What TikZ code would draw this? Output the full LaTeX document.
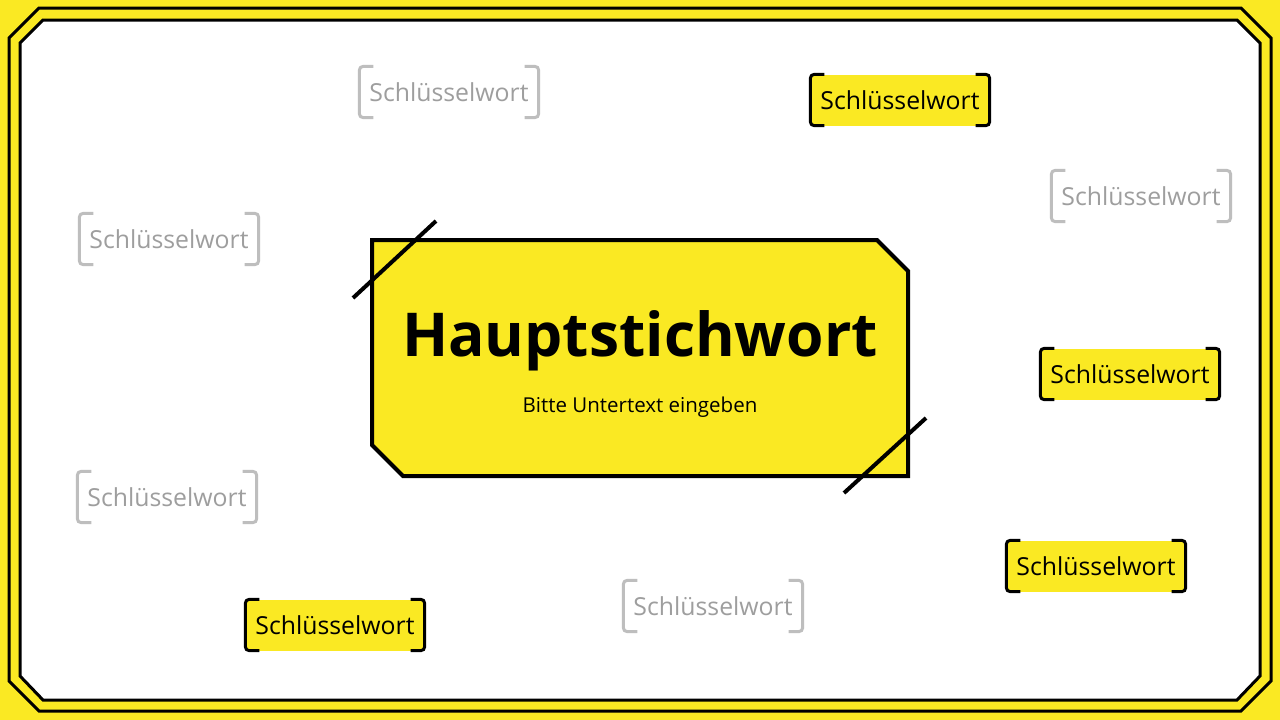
\documentclass[tikz,border=0pt]{standalone}
\usepackage{fontspec}
\setmainfont{Open Sans}
\usepackage{tikz}
\definecolor{gelb}{RGB}{250,233,35}
\definecolor{hellgrau}{RGB}{190,190,190}
\definecolor{textgrau}{RGB}{158,158,158}

\begin{document}
\begin{tikzpicture}[x=1pt,y=-1pt,
  kwon/.style={minimum width=179pt, minimum height=51pt, inner sep=0pt, fill=gelb, text=black, font=\fontsize{24.8}{26}\selectfont},
  kwoff/.style={minimum width=179pt, minimum height=51pt, inner sep=0pt, text=textgrau, font=\fontsize{24.8}{26}\selectfont},
  bron/.style={line width=3pt, black, rounded corners=4pt},
  broff/.style={line width=3pt, hellgrau, rounded corners=4pt}]
\useasboundingbox (0,0) rectangle (1280,720);
\fill [gelb] (0,0) rectangle (1280,720);

% Rahmen
\draw [line width=3pt] (39,8) -- (1241,8) -- (1271,38) -- (1271,681) -- (1241,711) -- (39,711) -- (9,681) -- (9,38) -- cycle;
\draw [line width=3pt, fill=white] (43,20) -- (1237,20) -- (1260,43) -- (1260,676) -- (1237,700) -- (43,700) -- (20,676) -- (20,43) -- cycle;

% Hauptfeld
\draw [line width=4pt, fill=gelb] (372,240) -- (877,240) -- (908,271) -- (908,476) -- (403,476) -- (372,445) -- cycle;
\draw [line width=4pt] (353,298) -- (436,221);
\draw [line width=4pt] (844,493) -- (926,418);
\node (titel) at (640,341) {\fontsize{60.5}{64}\selectfont\bfseries Hauptstichwort};
\node (unter) at (640,407) {\fontsize{20.5}{22}\selectfont Bitte Untertext eingeben};

% Schluesselwoerter
\foreach \n/\x/\y/\s in {1/449/92/off, 2/900/100/on, 3/1141/196/off, 4/169/239/off, 5/1130/374/on,
                         6/167/497/off, 7/1096/566/on, 8/713/606/off, 9/335/625/on} {
  \node [kw\s] (kw\n) at (\x,\y) {Schlüsselwort};
  \draw [br\s] ([xshift=14pt]kw\n.north west) -- (kw\n.north west) -- (kw\n.south west) -- ([xshift=14pt]kw\n.south west);
  \draw [br\s] ([xshift=-14pt]kw\n.north east) -- (kw\n.north east) -- (kw\n.south east) -- ([xshift=-14pt]kw\n.south east);
}
\end{tikzpicture}
\end{document}
